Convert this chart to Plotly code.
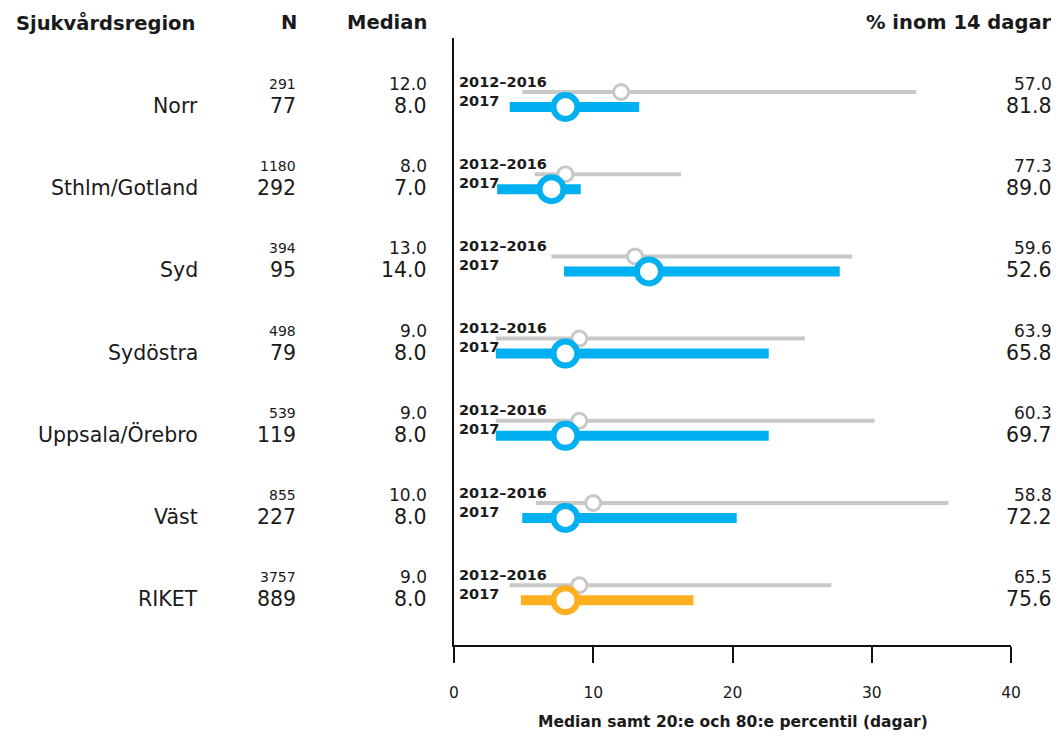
import plotly.graph_objects as go

# ---------------- data ----------------
regions = ["Norr", "Sthlm/Gotland", "Syd", "Sydöstra", "Uppsala/Örebro", "Väst", "RIKET"]
n_prev = [291, 1180, 394, 498, 539, 855, 3757]
n_2017 = [77, 292, 95, 79, 119, 227, 889]
med_prev = [12.0, 8.0, 13.0, 9.0, 9.0, 10.0, 9.0]
med_2017 = [8.0, 7.0, 14.0, 8.0, 8.0, 8.0, 8.0]
p20_prev = [4.9, 5.8, 7.0, 3.0, 3.0, 5.9, 4.0]
p80_prev = [33.2, 16.3, 28.6, 25.2, 30.2, 35.5, 27.1]
p20_2017 = [4.0, 3.1, 7.9, 3.0, 3.0, 4.9, 4.8]
p80_2017 = [13.3, 9.1, 27.7, 22.6, 22.6, 20.3, 17.2]
pct_prev = [57.0, 77.3, 59.6, 63.9, 60.3, 58.8, 65.5]
pct_2017 = [81.8, 89.0, 52.6, 65.8, 69.7, 72.2, 75.6]
period_labels = ["2012–2016", "2017"]
x_ticks = [0, 10, 20, 30, 40]

# ---------------- style ----------------
GRAY = "#C8C8C8"
BLUE = "#00B0F0"
ORANGE = "#FFB020"
TXT = "#1a1a1a"
FONT = "DejaVu Sans"
SHIFT = 8  # page body margin
W, H = 1059 - SHIFT, 738 - SHIFT
L, R, T, B = 454 - SHIFT, 48, 38 - SHIFT, 93
PW = W - L - R
PH = H - T - B
ROW0 = 92.0 - SHIFT     # pixel y of first gray line (figure coords)
ROWSTEP = 82.2          # pixels between rows
OFF_BLUE = 15 / ROWSTEP

def paper_x(px):
    return (px - SHIFT - L) / PW

def paper_y(py):
    return (T + PH - (py - SHIFT)) / PH

rows = list(range(len(regions)))
y_prev = [r for r in rows]
y_new = [r + OFF_BLUE for r in rows]

fig = go.Figure()

# gray (2012-2016) ranges
xs, ys = [], []
for i in rows:
    xs += [p20_prev[i], p80_prev[i], None]
    ys += [y_prev[i], y_prev[i], None]
fig.add_trace(go.Scatter(x=xs, y=ys, mode="lines", line=dict(color=GRAY, width=4),
                         hoverinfo="skip", showlegend=False))
fig.add_trace(go.Scatter(x=med_prev, y=y_prev, mode="markers",
                         marker=dict(symbol="circle", size=15, color="white",
                                     line=dict(color=GRAY, width=3)),
                         showlegend=False))

# 2017 ranges
colors = [BLUE if r != "RIKET" else ORANGE for r in regions]
for i in rows:
    fig.add_trace(go.Scatter(x=[p20_2017[i], p80_2017[i]], y=[y_new[i], y_new[i]],
                             mode="lines", line=dict(color=colors[i], width=10),
                             hoverinfo="skip", showlegend=False))
for i in rows:
    fig.add_trace(go.Scatter(x=[med_2017[i]], y=[y_new[i]], mode="markers",
                             marker=dict(symbol="circle", size=24, color="white",
                                         line=dict(color=colors[i], width=6)),
                             showlegend=False))

ann = []
def add(text, x, y, size, xanchor="right", bold=False, yref="y", xref="paper", align="right"):
    ann.append(dict(text=f"<b>{text}</b>" if bold else text, x=x, y=y, xref=xref, yref=yref,
                    xanchor=xanchor, yanchor="middle", showarrow=False, align=align,
                    font=dict(family=FONT, size=size, color=TXT), borderpad=0))

small_off = (84 - 92) / ROWSTEP
big_off = (106 - 92) / ROWSTEP
lab_off = (91 - 92) / ROWSTEP

for i in rows:
    add(regions[i], paper_x(199), i + big_off, 20.5)
    add(str(n_prev[i]), paper_x(297), i + small_off, 14)
    add(str(n_2017[i]), paper_x(297), i + big_off, 20.5)
    add(f"{med_prev[i]:.1f}", paper_x(428), i + small_off, 17)
    add(f"{med_2017[i]:.1f}", paper_x(428), i + big_off, 20.5)
    add(f"{pct_prev[i]:.1f}", paper_x(1053), i + small_off, 17)
    add(f"{pct_2017[i]:.1f}", paper_x(1053), i + big_off, 20.5)
    add(f"<b>{period_labels[0]}</b><br><b>{period_labels[1]}</b>", paper_x(458), i + lab_off,
        14.5, xanchor="left", align="left")

# headers
add("Sjukvårdsregion", paper_x(15), paper_y(23), 19.5, xanchor="left", bold=True, yref="paper")
add("N", paper_x(298), paper_y(23), 19.5, bold=True, yref="paper")
add("Median", paper_x(428), paper_y(23), 19.5, bold=True, yref="paper")
add("% inom 14 dagar", paper_x(1053), paper_y(23), 19.5, bold=True, yref="paper")
# x axis title
ann.append(dict(text="<b>Median samt 20:e och 80:e percentil (dagar)</b>",
                x=0.5, y=paper_y(722), xref="paper", yref="paper",
                xanchor="center", yanchor="middle", showarrow=False,
                font=dict(family=FONT, size=15.5, color=TXT)))

fig.update_layout(
    width=W, height=H,
    margin=dict(l=L, r=R, t=T, b=B, pad=0),
    paper_bgcolor="white", plot_bgcolor="white",
    annotations=ann,
    showlegend=False,
    xaxis=dict(range=[0, 40], tickvals=x_ticks, ticktext=[str(v) for v in x_ticks],
               showgrid=False, zeroline=False, showline=True, linecolor="#111", linewidth=2,
               ticks="outside", ticklen=16, tickwidth=2, tickcolor="#111",
               ticklabelstandoff=16,
               tickfont=dict(family=FONT, size=15.5, color=TXT)),
    yaxis=dict(range=[(T + PH - ROW0) / ROWSTEP, (T - ROW0) / ROWSTEP], showgrid=False,
               zeroline=False, showline=True, linecolor="#111", linewidth=2,
               showticklabels=False, ticks=""),
)

fig.write_html("out.html")
